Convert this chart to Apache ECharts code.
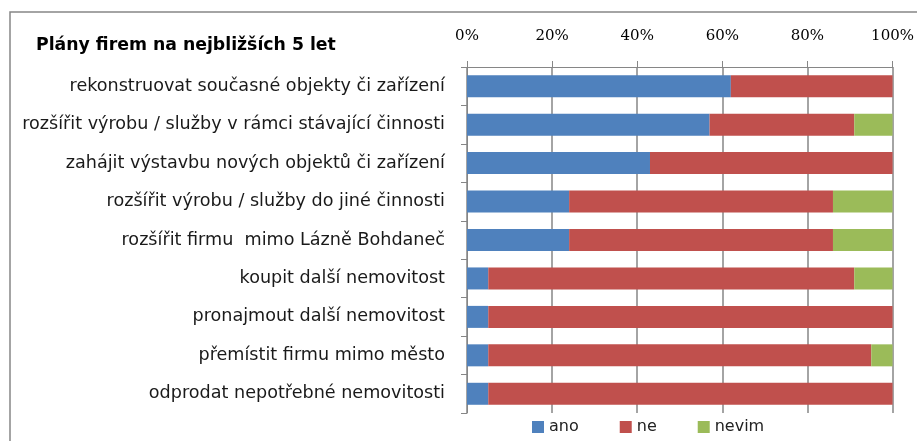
<!DOCTYPE html>
<html>
<head>
<meta charset="utf-8">
<script src="https://cdn.jsdelivr.net/npm/echarts@6/dist/echarts.min.js"></script>
<style>
  html, body { margin: 0; padding: 0; background: #fff; }
  #chart { width: 917px; height: 441px; }
</style>
</head>
<body>
<div id="chart"></div>
<script>
const categories = [
  'rekonstruovat současné objekty či zařízení',
  'rozšířit výrobu / služby v rámci stávající činnosti',
  'zahájit výstavbu nových objektů či zařízení',
  'rozšířit výrobu / služby do jiné činnosti',
  'rozšířit firmu  mimo Lázně Bohdaneč',
  'koupit další nemovitost',
  'pronajmout další nemovitost',
  'přemístit firmu mimo město',
  'odprodat nepotřebné nemovitosti'
]
const ano = [62, 57, 43, 24, 24, 5, 5, 5, 5]
const ne = [38, 34, 57, 62, 62, 86, 95, 90, 95]
const nevim = [0, 9, 0, 14, 14, 9, 0, 5, 0]
const seriesNames = ['ano', 'ne', 'nevim']
const colors = ['#4F81BD', '#C0504D', '#9BBB59']

const chart = echarts.init(document.getElementById('chart'))
const gray = '#868686'

const option = {
  animation: false,
  color: colors,
  title: {
    text: 'Plány firem na nejbližších 5 let',
    left: 31,
    top: 32,
    textStyle: { fontFamily: 'DejaVu Sans', fontSize: 17.3, fontWeight: 'bold', color: '#000' }
  },
  graphic: [{
    type: 'rect',
    shape: { x: 10, y: 12, width: 930, height: 460 },
    style: { fill: 'none', stroke: gray, lineWidth: 1.5 },
    silent: true
  }],
  legend: {
    data: seriesNames,
    left: 532,
    top: 419,
    padding: 0,
    itemWidth: 12,
    itemHeight: 12,
    itemGap: 41,
    icon: 'rect',
    textStyle: { fontFamily: 'DejaVu Sans', fontSize: 16, color: '#222' }
  },
  grid: { left: 467, right: 24, top: 67, bottom: 28 },
  xAxis: {
    type: 'value',
    position: 'top',
    min: 0,
    max: 100,
    interval: 20,
    axisLine: { show: true, lineStyle: { color: gray, width: 1 } },
    axisTick: { show: true, length: 6, lineStyle: { color: gray } },
    splitLine: { show: true, lineStyle: { color: gray, width: 1.5 } },
    axisLabel: {
      formatter: '{value}%',
      margin: 23,
      fontFamily: 'DejaVu Serif',
      fontSize: 15,
      color: '#000'
    }
  },
  yAxis: {
    type: 'category',
    inverse: true,
    data: categories,
    axisLine: { show: true, lineStyle: { color: gray, width: 1 } },
    axisTick: { show: true, length: 6, lineStyle: { color: gray } },
    axisLabel: {
      margin: 22,
      fontFamily: 'DejaVu Sans',
      fontSize: 17.6,
      color: '#1a1a1a'
    }
  },
  series: [
    { name: 'ano', type: 'bar', stack: 'total', barWidth: 22, data: ano },
    { name: 'ne', type: 'bar', stack: 'total', barWidth: 22, data: ne },
    { name: 'nevim', type: 'bar', stack: 'total', barWidth: 22, data: nevim }
  ]
}

chart.setOption(option)
</script>
</body>
</html>
